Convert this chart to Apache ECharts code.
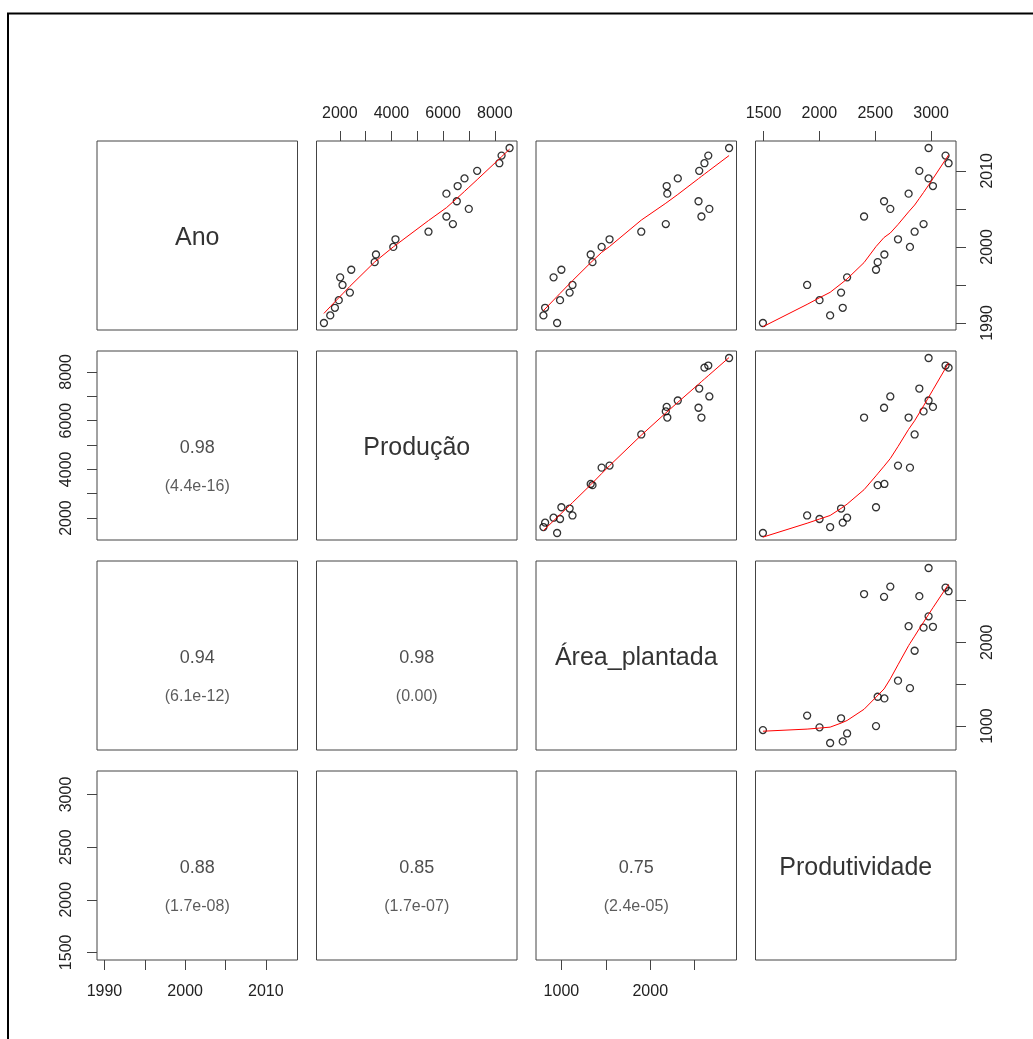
<!DOCTYPE html>
<html>
<head>
<meta charset="utf-8">
<script src="https://cdn.jsdelivr.net/npm/echarts@6/dist/echarts.min.js"></script>
<style>
  html, body { margin: 0; padding: 0; background: #fff; }
  #main { width: 1033px; height: 1039px; }
</style>
</head>
<body>
<div id="main"></div>
<script>
// dados
const varNames = ['Ano', 'Produção', 'Área_plantada', 'Produtividade']
const ano = [1990, 1991, 1992, 1993, 1994, 1995, 1996, 1997, 1998, 1999, 2000, 2001,
  2002, 2003, 2004, 2005, 2006, 2007, 2008, 2009, 2010, 2011, 2012, 2013]
const producao = [1385, 1630, 1810, 1960, 2390, 2105, 2013, 2443, 3350, 3400, 4070, 4155,
  5433, 6378, 6127, 6994, 6530, 6127, 6563, 6828, 7318, 8177, 8263, 8573]
const areaPlantada = [952, 798, 817, 985, 1093, 1125, 912, 1000, 1350, 1330, 1453, 1542,
  1899, 2175, 2576, 2665, 2543, 2192, 2185, 2310, 2551, 2610, 2653, 2887]
const produtividade = [1494, 2096, 2209, 2001, 2194, 1890, 2248, 2507, 2522, 2582, 2811, 2704,
  2853, 2933, 2400, 2635, 2579, 2799, 3017, 2978, 2895, 3157, 3130, 2978]

// marcas dos eixos
const anoTicks = [1990, 1995, 2000, 2005, 2010]
const anoLabels = [1990, 2000, 2010]
const producaoTicks = [2000, 3000, 4000, 5000, 6000, 7000, 8000]
const producaoLabels = [2000, 4000, 6000, 8000]
const areaTicks = [1000, 1500, 2000, 2500]
const areaLabels = [1000, 2000]
const produtividadeTicks = [1500, 2000, 2500, 3000]
const produtividadeLabels = [1500, 2000, 2500, 3000]

// correlações (painéis inferiores: [linha, coluna])
const corrCells = [[1, 0], [2, 0], [2, 1], [3, 0], [3, 1], [3, 2]]
const corrValues = ['0.98', '0.94', '0.98', '0.88', '0.85', '0.75']
const corrPvalues = ['(4.4e-16)', '(6.1e-12)', '(0.00)', '(1.7e-08)', '(1.7e-07)', '(2.4e-05)']

const vars = [ano, producao, areaPlantada, produtividade]
const ticks = [anoTicks, producaoTicks, areaTicks, produtividadeTicks]
const labels = [anoLabels, producaoLabels, areaLabels, produtividadeLabels]

// layout dos painéis
const COL_LEFT = [97, 316.5, 536, 755.5]
const ROW_TOP = [141, 351, 561, 771]
const PANEL_W = 200.5
const PANEL_H = 189
const FONT = 'Liberation Sans, Arial, sans-serif'
const BOX = '#444'

// faixa estendida 4% como no R
const ranges = vars.map(v => {
    const lo = Math.min(...v), hi = Math.max(...v)
    const pad = 0.04 * (hi - lo)
    return [lo - pad, hi + pad]
})

// lowess igual ao stats::lowess do R (f = 2/3, iter = 3)
function lowess(xIn, yIn, f, nsteps) {
    const idx = xIn.map((_, i) => i).sort((a, b) => xIn[a] - xIn[b])
    const x = idx.map(i => xIn[i]), y = idx.map(i => yIn[i])
    const n = x.length
    const range = x[n - 1] - x[0]
    const delta = 0.01 * range
    const ns = Math.max(2, Math.min(n, Math.floor(f * n + 1e-7)))
    const ys = new Array(n).fill(0), rw = new Array(n).fill(1), res = new Array(n).fill(0)
    const w = new Array(n).fill(0)

    function lowest(xs, nleft, nright, userw) {
        const h = Math.max(xs - x[nleft], x[nright] - xs)
        const h9 = 0.999 * h, h1 = 0.001 * h
        let a = 0, j = nleft
        while (j < n) {
            w[j] = 0
            const r = Math.abs(x[j] - xs)
            if (r <= h9) {
                w[j] = r <= h1 ? 1 : Math.pow(1 - Math.pow(r / h, 3), 3)
                if (userw) w[j] *= rw[j]
                a += w[j]
            } else if (x[j] > xs) break
            j++
        }
        const nrt = j - 1
        if (a <= 0) return null
        for (j = nleft; j <= nrt; j++) w[j] /= a
        if (h > 0) {
            a = 0
            for (j = nleft; j <= nrt; j++) a += w[j] * x[j]
            let b = xs - a, c = 0
            for (j = nleft; j <= nrt; j++) c += w[j] * (x[j] - a) * (x[j] - a)
            if (Math.sqrt(c) > 0.001 * range) {
                b /= c
                for (j = nleft; j <= nrt; j++) w[j] *= (b * (x[j] - a) + 1)
            }
        }
        let s = 0
        for (j = nleft; j <= nrt; j++) s += w[j] * y[j]
        return s
    }

    for (let iter = 1; iter <= nsteps + 1; iter++) {
        let nleft = 0, nright = ns - 1, last = -1, i = 0
        for (;;) {
            if (nright < n - 1) {
                const d1 = x[i] - x[nleft], d2 = x[nright + 1] - x[i]
                if (d1 > d2) { nleft++; nright++; continue }
            }
            const v = lowest(x[i], nleft, nright, iter > 1)
            ys[i] = v === null ? y[i] : v
            if (last < i - 1) {
                const denom = x[i] - x[last]
                for (let j = last + 1; j < i; j++) {
                    const alpha = (x[j] - x[last]) / denom
                    ys[j] = alpha * ys[i] + (1 - alpha) * ys[last]
                }
            }
            last = i
            const cut = x[last] + delta
            for (i = last + 1; i < n; i++) {
                if (x[i] > cut) break
                if (x[i] === x[last]) { ys[i] = ys[last]; last = i }
            }
            i = Math.max(last + 1, i - 1)
            if (last >= n - 1) break
        }
        for (let k = 0; k < n; k++) res[k] = y[k] - ys[k]
        const sc = res.reduce((s, r) => s + Math.abs(r), 0) / n
        if (iter > nsteps) break
        const ar = res.map(Math.abs).sort((a, b) => a - b)
        const m1 = Math.floor(n / 2)
        const cmad = n % 2 === 0 ? 3 * (ar[m1] + ar[n - m1 - 1]) : 6 * ar[m1]
        if (cmad < 1e-7 * sc) break
        const c9 = 0.999 * cmad, c1 = 0.001 * cmad
        for (let k = 0; k < n; k++) {
            const r = Math.abs(res[k])
            rw[k] = r <= c1 ? 1 : (r <= c9 ? Math.pow(1 - (r / cmad) * (r / cmad), 2) : 0)
        }
    }
    return x.map((xv, k) => [xv, ys[k]])
}

const grid = [], xAxis = [], yAxis = [], series = []

const labelStyle = { color: '#222', fontSize: 16, fontFamily: FONT, formatter: v => String(v) }

for (let r = 0; r < 4; r++) {
    for (let c = 0; c < 4; c++) {
        const k = r * 4 + c
        grid.push({
            left: COL_LEFT[c], top: ROW_TOP[r], width: PANEL_W, height: PANEL_H,
            show: true, borderColor: BOX, borderWidth: 1, backgroundColor: 'transparent'
        })

        const xTop = r === 0 && c % 2 === 1
        const xBottom = r === 3 && c % 2 === 0
        const showX = xTop || xBottom
        xAxis.push({
            type: 'value', gridIndex: k, min: ranges[c][0], max: ranges[c][1],
            position: xTop ? 'top' : 'bottom',
            splitLine: { show: false },
            axisLine: { show: false },
            axisTick: { show: showX, length: 10, lineStyle: { color: BOX }, customValues: ticks[c] },
            axisLabel: Object.assign({
                show: showX, margin: xTop ? 19 : 24, customValues: labels[c]
            }, labelStyle)
        })

        const yLeft = c === 0 && r % 2 === 1
        const yRight = c === 3 && r % 2 === 0
        const showY = yLeft || yRight
        yAxis.push({
            type: 'value', gridIndex: k, min: ranges[r][0], max: ranges[r][1],
            position: yRight ? 'right' : 'left',
            splitLine: { show: false },
            axisLine: { show: false },
            axisTick: { show: showY, length: 10, lineStyle: { color: BOX }, customValues: ticks[r] },
            axisLabel: Object.assign({
                show: showY, rotate: 90, margin: yLeft ? 22 : 24, customValues: labels[r]
            }, labelStyle)
        })

        const cx = (ranges[c][0] + ranges[c][1]) / 2
        const cy = (ranges[r][0] + ranges[r][1]) / 2

        if (c > r) {
            // painel superior: pontos + lowess
            const pts = vars[c].map((v, i) => [v, vars[r][i]])
            series.push({
                type: 'scatter', xAxisIndex: k, yAxisIndex: k, data: pts,
                symbol: 'circle', symbolSize: 7, silent: true, z: 2,
                itemStyle: { color: 'rgba(0,0,0,0)', borderColor: '#000', borderWidth: 1.3 }
            })
            series.push({
                type: 'line', xAxisIndex: k, yAxisIndex: k, data: lowess(vars[c], vars[r], 2 / 3, 3),
                showSymbol: false, silent: true, z: 3,
                lineStyle: { color: '#ff0000', width: 1 }
            })
        } else if (c === r) {
            // diagonal: nome da variável
            series.push({
                type: 'scatter', xAxisIndex: k, yAxisIndex: k, silent: true,
                symbolSize: 1, itemStyle: { color: 'rgba(0,0,0,0)' },
                data: [{
                    value: [cx, cy],
                    label: {
                        show: true, position: 'inside', offset: [0, 3], formatter: varNames[r],
                        color: '#000', fontSize: 25, fontFamily: FONT
                    }
                }]
            })
        } else {
            const ci = corrCells.findIndex(p => p[0] === r && p[1] === c)
            series.push({
                type: 'scatter', xAxisIndex: k, yAxisIndex: k, silent: true,
                symbolSize: 1, itemStyle: { color: 'rgba(0,0,0,0)' },
                data: [{
                    value: [cx, cy],
                    label: {
                        show: true, position: 'inside', offset: [0, 3], formatter: corrValues[ci],
                        color: '#222', fontSize: 18, fontFamily: FONT
                    }
                }, {
                    value: [cx, cy],
                    label: {
                        show: true, position: 'inside', offset: [0, 41], formatter: corrPvalues[ci],
                        color: '#333', fontSize: 16, fontFamily: FONT
                    }
                }]
            })
        }
    }
}

const chart = echarts.init(document.getElementById('main'), null, { renderer: 'canvas' })
chart.setOption({
    animation: false,
    backgroundColor: '#fff',
    grid, xAxis, yAxis, series,
    graphic: [{
        type: 'rect', silent: true,
        shape: { x: 8, y: 13.5, width: 1200, height: 1200 },
        style: { fill: 'none', stroke: '#000', lineWidth: 2 }
    }]
})
</script>
</body>
</html>
